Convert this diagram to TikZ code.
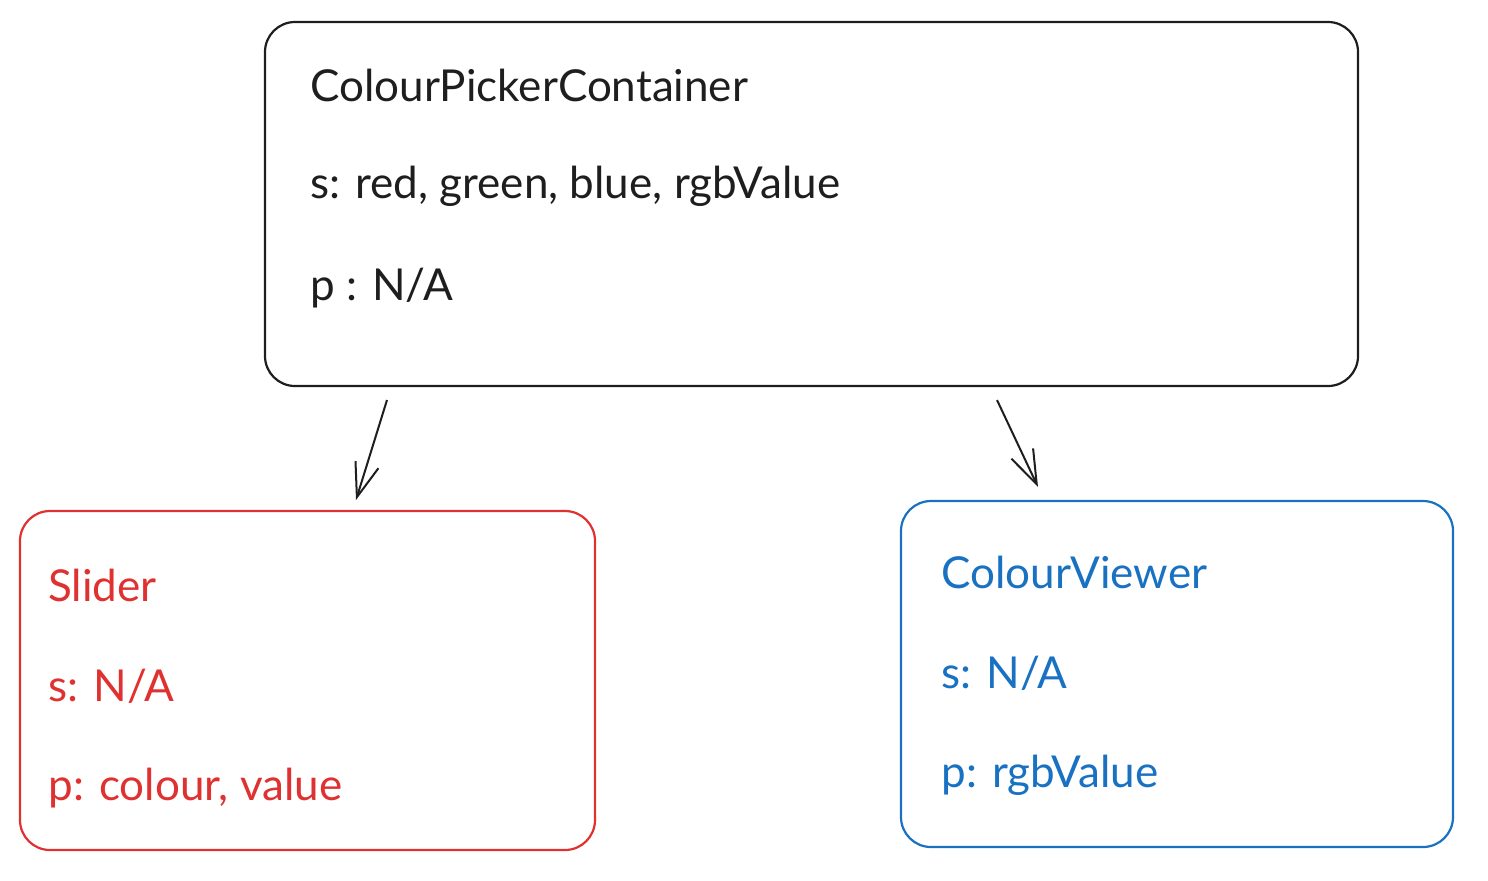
\documentclass[tikz,border=0pt]{standalone}
\usepackage{fontspec}
\setmainfont{Lato}
\usetikzlibrary{arrows.meta}

\definecolor{inkblack}{HTML}{1E1E1E}
\definecolor{inkred}{HTML}{E03131}
\definecolor{inkblue}{HTML}{1971C2}

\tikzset{
  box/.style={draw, rounded corners=15pt, line width=1.1pt, inner sep=0pt},
  txt/.style={anchor=west, inner sep=0pt, font=\fontsize{22}{26}\selectfont},
  flow/.style={-{Straight Barb[length=17pt,width=12pt,line width=1pt]}, line width=1pt, inkblack}
}

\begin{document}
\begin{tikzpicture}[x=0.5pt,y=-0.5pt]
			\useasboundingbox (0,0) rectangle (1488,880);

			% boxes
			\node[box, inkblack, minimum width=546.5pt, minimum height=182pt] (Container) at (811.5,204) {};
			\node[box, inkred, minimum width=287.5pt, minimum height=169.5pt] (Slider) at (307.5,680.5) {};
			\node[box, inkblue, minimum width=276pt, minimum height=173pt] (Viewer) at (1177,674) {};

			% texts
			\node[txt, inkblack] (ContName) at (310,85) {ColourPickerContainer};
			\node[txt, inkblack] (ContS) at (310,186) {s: red, green, blue, rgbValue};
			\node[txt, inkblack] (ContP) at (310,288) {p : N/A};

			\node[txt, inkred] (SlName) at (48,585) {Slider};
			\node[txt, inkred] (SlS) at (48,686) {s: N/A};
			\node[txt, inkred] (SlP) at (48,788) {p: colour, value};

			\node[txt, inkblue] (ViName) at (941,572) {ColourViewer};
			\node[txt, inkblue] (ViS) at (941,673) {s: N/A};
			\node[txt, inkblue] (ViP) at (941,775) {p: rgbValue};

			% arrows
			\coordinate (SlFrom) at (387,400);
			\coordinate (SlTo) at (356,500);
			\coordinate (ViFrom) at (997,400);
			\coordinate (ViTo) at (1038,487);

			\draw[flow] (SlFrom) -- (SlTo);
			\draw[flow] (ViFrom) -- (ViTo);
		\end{tikzpicture}
\end{document}
